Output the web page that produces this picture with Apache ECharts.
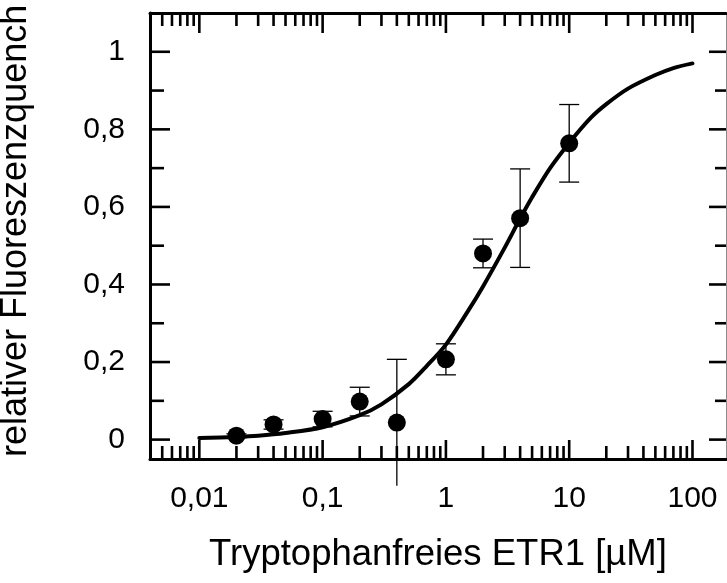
<!DOCTYPE html>
<html><head><meta charset="utf-8">
<script src="https://cdn.jsdelivr.net/npm/echarts@6/dist/echarts.min.js"></script>
<style>html,body{margin:0;padding:0;background:#fff}#c{width:727px;height:583px}</style>
</head><body><div id="c"></div>
<script>
// measured data
const concentrations = [0.02, 0.04, 0.1, 0.2, 0.4, 1, 2, 4, 10];
const quench = [0.010, 0.039, 0.053, 0.098, 0.044, 0.207, 0.480, 0.571, 0.764];
const quenchErr = [0.005, 0.012, 0.020, 0.037, 0.163, 0.040, 0.037, 0.127, 0.100];
// fitted curve
const fitX = [0.01, 0.02, 0.03, 0.05, 0.1, 0.2, 0.3, 0.5, 0.7, 1, 1.5, 2, 3, 4, 5, 7, 10, 15, 20, 30, 50, 70, 100];
const fitY = [0.004, 0.007, 0.010, 0.017, 0.032, 0.063, 0.091, 0.143, 0.190, 0.245, 0.330, 0.395, 0.495, 0.570, 0.625, 0.700, 0.765, 0.830, 0.865, 0.905, 0.940, 0.958, 0.970];
// ticks
const xMajorTicks = [0.01, 0.1, 1, 10, 100];
const xTickLabels = ['0,01', '0,1', '1', '10', '100'];
const xMinorTicks = [0.005, 0.006, 0.007, 0.008, 0.009,
  0.02, 0.03, 0.04, 0.05, 0.06, 0.07, 0.08, 0.09,
  0.2, 0.3, 0.4, 0.5, 0.6, 0.7, 0.8, 0.9,
  2, 3, 4, 5, 6, 7, 8, 9,
  20, 30, 40, 50, 60, 70, 80, 90];
const yMajorTicks = [0, 0.2, 0.4, 0.6, 0.8, 1];
const yTickLabels = ['0', '0,2', '0,4', '0,6', '0,8', '1'];
const yMinorTicks = [0.1, 0.3, 0.5, 0.7, 0.9];

const X_MIN = 0.00398, X_MAX = 187, Y_MIN = -0.05, Y_MAX = 1.1;
const FONT = '"Liberation Sans", Arial, sans-serif';

const chart = echarts.init(document.getElementById('c'), null, {renderer: 'canvas'});

function tickLine(x1, y1, x2, y2) {
  return {type: 'line', shape: {x1, y1, x2, y2}, style: {stroke: '#000', lineWidth: 2.6}};
}

const xTickData = xMajorTicks.map(v => [v, 0.5, 1]).concat(xMinorTicks.map(v => [v, 0.5, 0]));
const yTickData = yMajorTicks.map(v => [1, v, 1]).concat(yMinorTicks.map(v => [1, v, 0]));

const option = {
  animation: false,
  backgroundColor: '#fff',
  grid: {left: 150, top: 13, width: 576, height: 446, containLabel: false},
  xAxis: [{
    type: 'log', logBase: 10, min: X_MIN, max: X_MAX, position: 'bottom',
    axisLine: {show: true, onZero: false, lineStyle: {color: '#000', width: 3}},
    axisTick: {show: false}, splitLine: {show: false}, minorTick: {show: false},
    axisLabel: {
      show: true, margin: 25, color: '#000', fontSize: 30, fontFamily: FONT,
      showMinLabel: false, showMaxLabel: false,
      formatter: function (v) {
        for (let i = 0; i < xMajorTicks.length; i++) {
          if (Math.abs(Math.log10(v) - Math.log10(xMajorTicks[i])) < 1e-6) return xTickLabels[i];
        }
        return '';
      }
    },
    name: 'Tryptophanfreies ETR1 [µM]', nameLocation: 'middle', nameGap: 77,
    nameTextStyle: {color: '#000', fontSize: 36.5, fontFamily: FONT}
  }, {
    type: 'value', min: 0, max: 1, position: 'top', gridIndex: 0,
    axisLine: {show: true, onZero: false, lineStyle: {color: '#000', width: 3}},
    axisTick: {show: false}, axisLabel: {show: false}, splitLine: {show: false}
  }],
  yAxis: [{
    type: 'value', min: Y_MIN, max: Y_MAX, interval: 0.05, position: 'left',
    axisLine: {show: true, onZero: false, lineStyle: {color: '#000', width: 3}},
    axisTick: {show: false}, splitLine: {show: false},
    axisLabel: {
      show: true, margin: 25, color: '#000', fontSize: 30, fontFamily: FONT,
      formatter: function (v) {
        for (let i = 0; i < yMajorTicks.length; i++) {
          if (Math.abs(v - yMajorTicks[i]) < 1e-6) return yTickLabels[i];
        }
        return '';
      }
    }
  }, {
    type: 'value', min: 0, max: 1, position: 'right', gridIndex: 0,
    axisLine: {show: true, onZero: false, lineStyle: {color: '#8c8c8c', width: 1}},
    axisTick: {show: false}, axisLabel: {show: false}, splitLine: {show: false}
  }],
  graphic: [{
    type: 'text', x: 16, y: 457, rotation: Math.PI / 2,
    style: {text: 'relativer Fluoreszenzquench', font: '36px ' + FONT, fill: '#000',
      align: 'left', verticalAlign: 'middle', textAlign: 'left', textVerticalAlign: 'middle'}
  }],
  series: [
    {
      type: 'custom', name: 'xticks', xAxisIndex: 0, yAxisIndex: 0, silent: true, z: 5,
      data: xTickData, encode: {x: 0, y: 1},
      renderItem: function (params, api) {
        const cs = params.coordSys;
        const px = api.coord([api.value(0), 0.5])[0];
        const major = api.value(2) === 1;
        const lb = major ? 19 : 13, lt = major ? 20 : 13;
        const b = cs.y + cs.height, t = cs.y;
        return {type: 'group', children: [tickLine(px, b, px, b - lb), tickLine(px, t, px, t + lt)]};
      }
    },
    {
      type: 'custom', name: 'yticks', xAxisIndex: 0, yAxisIndex: 0, silent: true, z: 5,
      data: yTickData, encode: {x: 0, y: 1},
      renderItem: function (params, api) {
        const cs = params.coordSys;
        const py = api.coord([1, api.value(1)])[1];
        const major = api.value(2) === 1;
        const ll = major ? 20 : 14, lr = major ? 17 : 11;
        const l = cs.x, r = cs.x + cs.width;
        return {type: 'group', children: [tickLine(l, py, l + ll, py), tickLine(r, py, r - lr, py)]};
      }
    },
    {
      type: 'custom', name: 'errors', xAxisIndex: 0, yAxisIndex: 0, silent: true, z: 3,
      data: concentrations.map((c, i) => [c, quench[i], quenchErr[i]]),
      encode: {x: 0, y: 1},
      renderItem: function (params, api) {
        const x = api.value(0), y = api.value(1), e = api.value(2);
        const top = api.coord([x, y + e]);
        const bot = api.coord([x, y - e]);
        const hw = 10;
        const st = {stroke: '#000', lineWidth: 1.3};
        const ch = [
          {type: 'line', shape: {x1: top[0], y1: top[1], x2: bot[0], y2: bot[1]}, style: st},
          {type: 'line', shape: {x1: top[0] - hw, y1: top[1], x2: top[0] + hw, y2: top[1]}, style: st}
        ];
        if (y - e >= Y_MIN) {
          ch.push({type: 'line', shape: {x1: bot[0] - hw, y1: bot[1], x2: bot[0] + hw, y2: bot[1]}, style: st});
        }
        return {type: 'group', children: ch};
      }
    },
    {
      type: 'line', name: 'fit', xAxisIndex: 0, yAxisIndex: 0, z: 4,
      data: fitX.map((x, i) => [x, fitY[i]]),
      smooth: 0.3, showSymbol: false, symbol: 'none', clip: false,
      lineStyle: {color: '#000', width: 4, cap: 'round'}
    },
    {
      type: 'scatter', name: 'data', xAxisIndex: 0, yAxisIndex: 0, z: 6,
      data: concentrations.map((c, i) => [c, quench[i]]),
      symbol: 'circle', symbolSize: 18,
      itemStyle: {color: '#000', opacity: 1}
    }
  ]
};
chart.setOption(option);
</script>
</body></html>
